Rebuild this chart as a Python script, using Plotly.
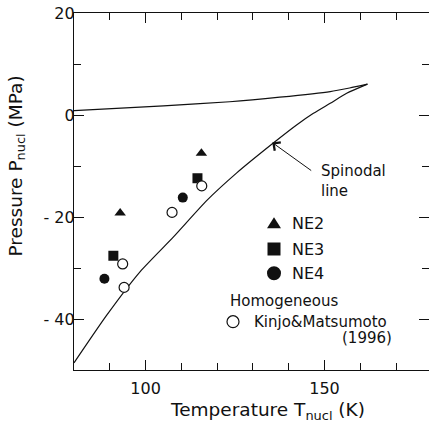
import plotly.graph_objects as go

# ---------------- data ----------------
ne2_T = [92.9, 115.6]
ne2_P = [-19.2, -7.5]
ne3_T = [91.0, 114.5]
ne3_P = [-27.6, -12.4]
ne4_T = [88.5, 110.4]
ne4_P = [-32.1, -16.2]
kinjo_T = [94.0, 93.6, 107.4, 115.7]
kinjo_P = [-33.8, -29.2, -19.1, -13.9]

upper_T = [80.0, 105.0, 123.5, 137.5, 151.6, 157.0, 162.0]
upper_P = [0.84, 1.8, 2.6, 3.5, 4.6, 5.3, 6.05]

spinodal_T = [80.0, 89.2, 98.5, 107.8, 117.2, 125.4, 135.6, 142.2, 146.9, 151.6, 156.2, 162.0]
spinodal_P = [-48.6, -39.2, -30.7, -23.9, -16.7, -11.4, -5.55, -1.96, 0.33, 2.3, 4.25, 6.05]

x_ticks = [100, 150]
y_ticks = [-40, -20, 0, 20]
y_ticktext = ["- 40", "- 20", "0", "20"]

# ---------------- layout helpers ----------------
W, H = 429, 430
L, R, T, B = 74, 0, 13, 60
PW, PH = W - L - R, H - T - B
FONT = "DejaVu Sans"
INK = "#111111"


def px(xp):
    return (xp - L) / PW


def py(yp):
    return (H - B - yp) / PH


fig = go.Figure()

fig.add_trace(go.Scatter(x=upper_T, y=upper_P, mode="lines", name="coexistence",
                         line=dict(color=INK, width=1.2, shape="spline", smoothing=0.6),
                         showlegend=False))
fig.add_trace(go.Scatter(x=spinodal_T, y=spinodal_P, mode="lines", name="Spinodal line",
                         line=dict(color=INK, width=1.2, shape="spline", smoothing=0.6),
                         showlegend=False))

fig.add_trace(go.Scatter(x=ne2_T, y=ne2_P, mode="markers", name="NE2",
                         marker=dict(symbol="triangle-up", size=10, color=INK), showlegend=False))
fig.add_trace(go.Scatter(x=ne3_T, y=ne3_P, mode="markers", name="NE3",
                         marker=dict(symbol="square", size=10, color=INK), showlegend=False))
fig.add_trace(go.Scatter(x=ne4_T, y=ne4_P, mode="markers", name="NE4",
                         marker=dict(symbol="circle", size=10, color=INK), showlegend=False))
fig.add_trace(go.Scatter(x=kinjo_T, y=kinjo_P, mode="markers", name="Kinjo&Matsumoto (1996)",
                         marker=dict(symbol="circle", size=10, color="white",
                                     line=dict(color=INK, width=1.2)), showlegend=False))

axis_common = dict(showgrid=False, zeroline=False, showline=True, linecolor=INK, linewidth=1.2,
                   mirror="ticks", ticks="inside", ticklen=10, tickwidth=1.2, tickcolor=INK,
                   tickfont=dict(family=FONT, size=16, color=INK), automargin=False)

fig.update_xaxes(range=[80, 179.2], tickvals=x_ticks, ticklabelstandoff=4,
                 minor=dict(dtick=10, tick0=80, ticks="inside", ticklen=7, tickwidth=1.2, tickcolor=INK),
                 **axis_common)
fig.update_yaxes(range=[-50, 20], tickvals=y_ticks, ticktext=y_ticktext, ticklabelstandoff=-5,
                 minor=dict(dtick=10, tick0=0, ticks="inside", ticklen=7, tickwidth=1.2, tickcolor=INK),
                 **axis_common)

ann = []
# axis titles
ann.append(dict(x=px(267.5), y=py(411), xref="paper", yref="paper", showarrow=False,
                text="Temperature T<sub>nucl</sub> (K)", xanchor="center", yanchor="middle",
                font=dict(family=FONT, size=18.5, color=INK)))
ann.append(dict(x=px(16), y=py(166.5), xref="paper", yref="paper", showarrow=False,
                text="Pressure P<sub>nucl</sub> (MPa)", textangle=-90, xanchor="center", yanchor="middle",
                font=dict(family=FONT, size=18.5, color=INK)))
# spinodal label & arrow
ann.append(dict(x=135.4, y=-5.4, ax=146.7, ay=-11.1, xref="x", yref="y", axref="x", ayref="y",
                text="", showarrow=True, arrowhead=4, arrowsize=2, arrowwidth=1, arrowcolor=INK))
ann.append(dict(x=px(319), y=py(181), xref="paper", yref="paper", showarrow=False,
                text="Spinodal<br>line", align="left", xanchor="left", yanchor="middle",
                font=dict(family=FONT, size=15, color=INK)))
# legend text
for label, yp in [("NE2", 223.3), ("NE3", 249), ("NE4", 273.3)]:
    ann.append(dict(x=px(290), y=py(yp), xref="paper", yref="paper", showarrow=False,
                    text=label, xanchor="left", yanchor="middle",
                    font=dict(family=FONT, size=16, color=INK)))
ann.append(dict(x=px(228), y=py(300.7), xref="paper", yref="paper", showarrow=False,
                text="Homogeneous", xanchor="left", yanchor="middle",
                font=dict(family=FONT, size=15, color=INK)))
ann.append(dict(x=px(252), y=py(321.7), xref="paper", yref="paper", showarrow=False,
                text="Kinjo&Matsumoto", xanchor="left", yanchor="middle",
                font=dict(family=FONT, size=15, color=INK)))
ann.append(dict(x=px(394), y=py(338), xref="paper", yref="paper", showarrow=False,
                text="(1996)", xanchor="right", yanchor="middle",
                font=dict(family=FONT, size=15, color=INK)))

# legend keys (shapes, pixel-sized)
shapes = []
cx = px(274)
shapes.append(dict(type="path", xref="paper", yref="paper", xsizemode="pixel", ysizemode="pixel",
                   xanchor=cx, yanchor=py(223.3), path="M-7,-5 L7,-5 L0,6 Z",
                   fillcolor=INK, line=dict(width=0)))
shapes.append(dict(type="rect", xref="paper", yref="paper", xsizemode="pixel", ysizemode="pixel",
                   xanchor=cx, yanchor=py(249), x0=-6.5, x1=6.5, y0=-6.5, y1=6.5,
                   fillcolor=INK, line=dict(width=0)))
shapes.append(dict(type="circle", xref="paper", yref="paper", xsizemode="pixel", ysizemode="pixel",
                   xanchor=cx, yanchor=py(273.3), x0=-7, x1=7, y0=-7, y1=7,
                   fillcolor=INK, line=dict(width=0)))
shapes.append(dict(type="circle", xref="paper", yref="paper", xsizemode="pixel", ysizemode="pixel",
                   xanchor=px(233), yanchor=py(321.7), x0=-6, x1=6, y0=-6, y1=6,
                   fillcolor="white", line=dict(width=1.2, color=INK)))

fig.update_layout(width=W, height=H, margin=dict(l=L, r=R, t=T, b=B, autoexpand=False),
                  paper_bgcolor="white", plot_bgcolor="white",
                  annotations=ann, shapes=shapes, showlegend=False)

fig.write_html("out.html", config={"displayModeBar": False},
               post_script="document.body.style.margin='0';document.body.style.overflow='hidden';")
